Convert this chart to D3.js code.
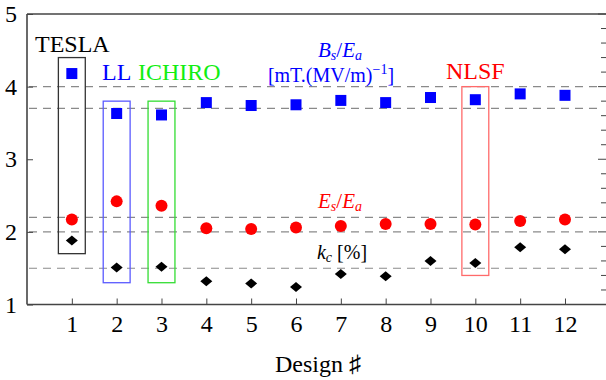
<!DOCTYPE html>
<html>
<head>
<meta charset="utf-8">
<script src="https://cdn.jsdelivr.net/npm/d3@7"></script>
<style>
  body { margin: 0; background: #fff; }
  svg { display: block; }
  svg text { font-family: "Liberation Serif", Tinos, "Times New Roman", Times, "DejaVu Serif", serif; }
</style>
</head>
<body>
<svg id="chart" width="606" height="380"></svg>
<script>
// design numbers and the three quantities per design
const designs = [1, 2, 3, 4, 5, 6, 7, 8, 9, 10, 11, 12];
const bsEa = [4.18, 3.63, 3.61, 3.78, 3.74, 3.75, 3.81, 3.78, 3.85, 3.82, 3.90, 3.88];
const esEa = [2.17, 2.42, 2.36, 2.05, 2.04, 2.06, 2.08, 2.11, 2.11, 2.10, 2.15, 2.17];
const kc = [1.88, 1.51, 1.52, 1.32, 1.29, 1.24, 1.42, 1.39, 1.60, 1.57, 1.79, 1.76];

// dashed reference levels
const refLines = [4.0, 3.7, 2.2, 2.0, 1.5];

// boxes around the reference cavities
const boxNames = ["TESLA", "LL", "ICHIRO", "NLSF"];
const boxDesign = [1, 2, 3, 10];
const boxLow = [1.7, 1.3, 1.3, 1.4];
const boxHigh = [4.4, 3.8, 3.8, 4.0];

const yTicks = [1, 2, 3, 4, 5];

const svg = d3.select("#chart");
const m = { left: 27, right: 604, top: 14, bottom: 304.5 };

const x = d3.scaleLinear().domain([0, 12.87]).range([m.left, m.right]);
const y = d3.scaleLinear().domain([1, 5]).range([m.bottom, m.top]);

const frame = "#444";

// dashed guide lines
svg.append("g").selectAll("line")
  .data(refLines)
  .enter()
  .append("line")
  .attr("x1", m.left + 2).attr("x2", m.right - 4)
  .attr("y1", (d) => y(d)).attr("y2", (d) => y(d))
  .attr("stroke", "#8a8a8a").attr("stroke-width", 1.1)
  .attr("stroke-dasharray", "8,6");

// boxes
const boxColor = ["#333", "#5a5aff", "#33dd33", "#ff6a6a"];
const textColor = ["#000", "#0000ff", "#11ee11", "#ff0000"];
svg.append("g").selectAll("rect")
  .data(boxNames)
  .enter()
  .append("rect")
  .attr("x", (d, i) => x(boxDesign[i] - 0.3))
  .attr("width", (d, i) => x(boxDesign[i] + 0.3) - x(boxDesign[i] - 0.3))
  .attr("y", (d, i) => y(boxHigh[i]))
  .attr("height", (d, i) => y(boxLow[i]) - y(boxHigh[i]))
  .attr("fill", "none")
  .attr("stroke", (d, i) => boxColor[i])
  .attr("stroke-width", 1.3);

// box labels
const labelPos = [[35, 52], [102, 80], [138, 80], [446, 79]];
svg.append("g").selectAll("text")
  .data(boxNames)
  .enter()
  .append("text")
  .attr("x", (d, i) => labelPos[i][0])
  .attr("y", (d, i) => labelPos[i][1])
  .attr("font-size", 24)
  .attr("fill", (d, i) => textColor[i])
  .text((d) => d);

// axes
const xAxis = d3.axisBottom(x).tickValues(designs).tickSize(-6).tickPadding(10).tickFormat(d3.format("d"));
const yAxis = d3.axisLeft(y).tickValues(yTicks).tickSize(-6).tickPadding(10).tickFormat(d3.format("d"));

const gx = svg.append("g").attr("transform", "translate(0," + m.bottom + ")").call(xAxis);
const gy = svg.append("g").attr("transform", "translate(" + m.left + ",0)").call(yAxis);

[gx, gy].forEach((g) => {
  g.attr("font-family", null);
  g.select(".domain").remove();
  g.selectAll(".tick line").attr("stroke", frame).attr("stroke-width", 1);
  g.selectAll("text").attr("font-size", 24).attr("fill", "#000");
});

// right side ticks (inward, minor every 0.2)
const minor = d3.range(1, 5.001, 0.2);
svg.append("g").selectAll("line")
  .data(minor)
  .enter()
  .append("line")
  .attr("x1", (d) => (Math.abs(d - Math.round(d)) < 1e-6 ? m.right - 6 : m.right - 3))
  .attr("x2", m.right + 2)
  .attr("y1", (d) => y(d)).attr("y2", (d) => y(d))
  .attr("stroke", frame).attr("stroke-width", 1);

// frame
svg.append("line").attr("x1", m.left).attr("x2", 606).attr("y1", m.top).attr("y2", m.top)
  .attr("stroke", frame).attr("stroke-width", 1.6);
svg.append("line").attr("x1", m.left).attr("x2", 606).attr("y1", m.bottom).attr("y2", m.bottom)
  .attr("stroke", frame).attr("stroke-width", 1.6);
svg.append("line").attr("x1", m.left).attr("x2", m.left).attr("y1", m.top).attr("y2", m.bottom)
  .attr("stroke", frame).attr("stroke-width", 1.6);

// markers
svg.append("g").selectAll("rect")
  .data(designs)
  .enter()
  .append("rect")
  .attr("x", (d) => x(d) - 5.5)
  .attr("y", (d, i) => y(bsEa[i]) - 5.5)
  .attr("width", 11).attr("height", 11)
  .attr("fill", "#0000ff");

svg.append("g").selectAll("circle")
  .data(designs)
  .enter()
  .append("circle")
  .attr("cx", (d) => x(d))
  .attr("cy", (d, i) => y(esEa[i]))
  .attr("r", 6)
  .attr("fill", "#ff0000");

svg.append("g").selectAll("path")
  .data(designs)
  .enter()
  .append("path")
  .attr("transform", (d, i) => "translate(" + x(d) + "," + y(kc[i]) + ")")
  .attr("d", "M0,-5L6,0L0,5L-6,0Z")
  .attr("fill", "#000");

// series labels
const bs = svg.append("text").attr("x", 340).attr("y", 57).attr("text-anchor", "middle")
  .attr("font-size", 21).attr("fill", "#0000ff");
bs.append("tspan").attr("font-style", "italic").text("B");
bs.append("tspan").attr("font-style", "italic").attr("font-size", 14).attr("dy", 3).text("s");
bs.append("tspan").attr("dy", -3).text("/");
bs.append("tspan").attr("font-style", "italic").text("E");
bs.append("tspan").attr("font-style", "italic").attr("font-size", 14).attr("dy", 3).text("a");

const unit = svg.append("text").attr("x", 331).attr("y", 82).attr("text-anchor", "middle")
  .attr("font-size", 20).attr("fill", "#0000ff");
unit.append("tspan").text("[mT.(MV/m)");
unit.append("tspan").attr("font-size", 14).attr("dy", -8).text("\u22121");
unit.append("tspan").attr("dy", 8).text("]");

const es = svg.append("text").attr("x", 340).attr("y", 208).attr("text-anchor", "middle")
  .attr("font-size", 21).attr("fill", "#ff0000");
es.append("tspan").attr("font-style", "italic").text("E");
es.append("tspan").attr("font-style", "italic").attr("font-size", 14).attr("dy", 3).text("s");
es.append("tspan").attr("dy", -3).text("/");
es.append("tspan").attr("font-style", "italic").text("E");
es.append("tspan").attr("font-style", "italic").attr("font-size", 14).attr("dy", 3).text("a");

const k = svg.append("text").attr("x", 342).attr("y", 259).attr("text-anchor", "middle")
  .attr("font-size", 20).attr("fill", "#000");
k.append("tspan").attr("font-style", "italic").text("k");
k.append("tspan").attr("font-style", "italic").attr("font-size", 14).attr("dy", 3).text("c");
k.append("tspan").attr("dy", -3).text(" [%]");

// x title
svg.append("text").attr("x", 318).attr("y", 372).attr("text-anchor", "middle")
  .attr("font-size", 24).attr("fill", "#000").text("Design \u266F");
</script>
</body>
</html>
